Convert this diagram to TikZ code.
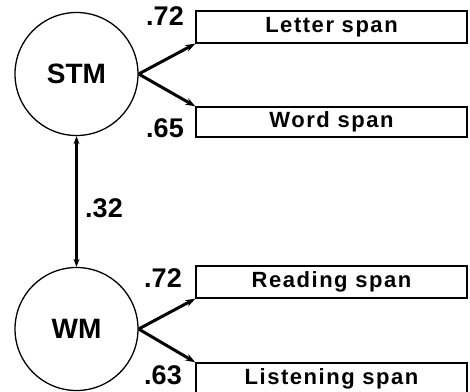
\documentclass[tikz,border=0pt]{standalone}
\usepackage{fontspec}
\setmainfont{Liberation Sans}
\newfontfamily\latentfont{Liberation Sans Bold}
\newfontfamily\spanfont{Liberation Sans Bold}[LetterSpace=7]
\usetikzlibrary{arrows.meta}
\begin{document}
\begin{tikzpicture}[x=1pt,y=-1pt,
  latent/.style={circle,draw,line width=1.3pt,minimum size=123pt,inner sep=0pt,font=\latentfont\fontsize{28}{28}\selectfont},
  measure/.style={rectangle,draw,line width=1.3pt,minimum width=271pt,inner sep=0pt,font=\spanfont\fontsize{22}{22}\selectfont},
  coef/.style={inner sep=0pt,font=\latentfont\fontsize{27}{27}\selectfont},
  load/.style={line width=3pt,-{Stealth[length=10pt,width=7pt]}},
  corr/.style={line width=2.6pt,{Stealth[length=8pt,width=6pt]}-{Stealth[length=8pt,width=6pt]}}]
\useasboundingbox (0,0) rectangle (470,391);
\clip (0,0) rectangle (470,391);
% latent factors
\node[latent] (stm) at (76.5,74) {STM};
\node[latent] (wm) at (76.5,329) {WM};
% observed spans
\node[measure,minimum height=32pt] (letter) at (331.5,27) {Letter span};
\node[measure,minimum height=30pt] (word) at (331.5,122) {Word span};
\node[measure,minimum height=32pt] (reading) at (331.5,282) {Reading span};
\node[measure,minimum height=32pt] (listen) at (331.5,379) {Listening span};
% loadings
\draw[load] (stm.east) -- (letter.south west);
\draw[load] (stm.east) -- (word.north west);
\draw[load] (wm.east) -- (reading.south west);
\draw[load] (wm.east) -- (listen.north west);
% correlation between factors
\draw[corr] (stm.south) -- (wm.north);
% coefficients
\node[coef] (c1) at (165,16.5) {.72};
\node[coef] (c2) at (165,128.5) {.65};
\node[coef] (c3) at (104,208) {.32};
\node[coef] (c4) at (163,278.5) {.72};
\node[coef] (c5) at (163,375.5) {.63};
\end{tikzpicture}
\end{document}
